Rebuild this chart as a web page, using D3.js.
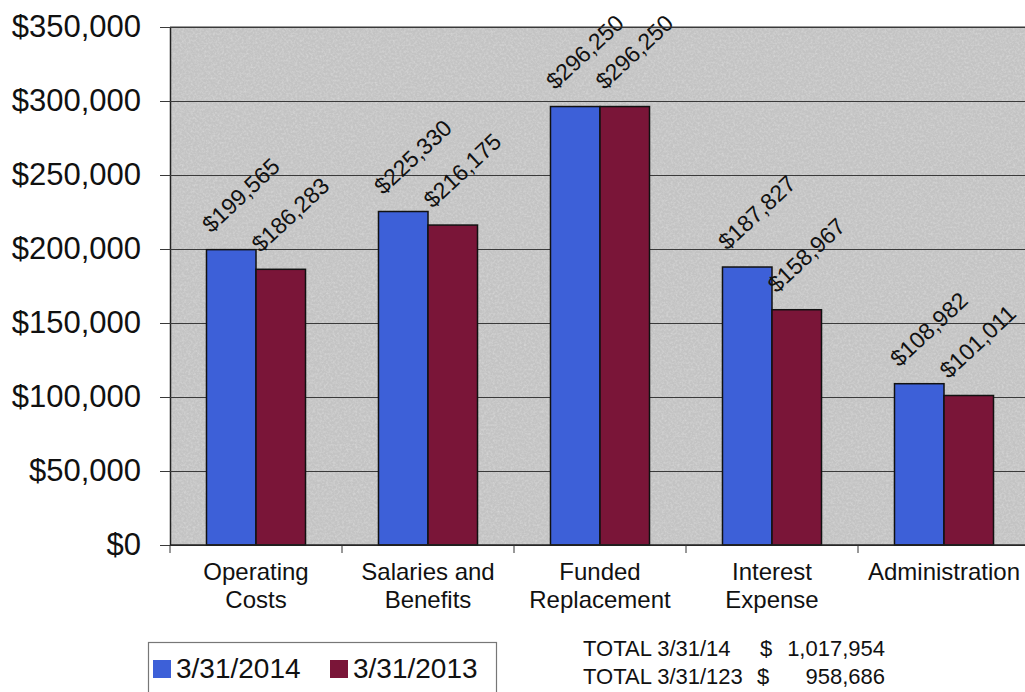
<!DOCTYPE html>
<html>
<head>
<meta charset="utf-8">
<script src="https://cdn.jsdelivr.net/npm/d3@7"></script>
<style>
  body { margin: 0; background: #fff; }
  svg { display: block; font-family: "Liberation Sans", Arial, sans-serif; }
</style>
</head>
<body>
<div id="chart"></div>
<script>
'use strict';

// data
var categories = [["Operating", "Costs"], ["Salaries and", "Benefits"], ["Funded", "Replacement"], ["Interest", "Expense"], ["Administration"]];
var seriesNames = ["3/31/2014", "3/31/2013"];
var values2014 = [199565, 225330, 296250, 187827, 108982];
var values2013 = [186283, 216175, 296250, 158967, 101011];
var yTicks = [0, 50000, 100000, 150000, 200000, 250000, 300000, 350000];
var totalLabels = ["TOTAL 3/31/14", "TOTAL 3/31/123"];
var totalValues = ["1,017,954", "958,686"];

var colors = ["#3d60d8", "#7a1538"];

var W = 1025, H = 692;
var plot = {left: 170, right: 1030, top: 27, bottom: 545};

var svg = d3.select("#chart").append("svg")
  .attr("width", W)
  .attr("height", H);

// light speckle texture for the grey plot area
var defs = svg.append("defs");
var f = defs.append("filter").attr("id", "grain")
  .attr("x", 0).attr("y", 0).attr("width", "100%").attr("height", "100%");
f.append("feTurbulence").attr("type", "fractalNoise")
  .attr("baseFrequency", 0.45).attr("numOctaves", 3).attr("seed", 7);
f.append("feColorMatrix").attr("type", "matrix")
  .attr("values", "0 0 0 0 1  0 0 0 0 1  0 0 0 0 1  1.2 0 0 0 -0.45");

var keys = categories.map(function(c) { return c.join(" "); });

var x0 = d3.scaleBand().domain(keys).range([plot.left, plot.right]).padding(0);
var x1 = d3.scaleBand().domain(seriesNames).range([0, x0.bandwidth()])
  .paddingInner(0).paddingOuter(0.737);
var y = d3.scaleLinear().domain([0, 350000]).range([plot.bottom, plot.top]);

var fmt = d3.format("$,");

// plot background
svg.append("rect")
  .attr("x", plot.left).attr("y", plot.top)
  .attr("width", plot.right - plot.left).attr("height", plot.bottom - plot.top)
  .attr("fill", "#c3c3c3");
svg.append("rect")
  .attr("x", plot.left).attr("y", plot.top)
  .attr("width", plot.right - plot.left).attr("height", plot.bottom - plot.top)
  .attr("filter", "url(#grain)")
  .attr("opacity", 0.45);

// gridlines + y axis
var yAxis = d3.axisLeft(y)
  .tickValues(yTicks)
  .tickFormat(fmt)
  .tickSizeInner(-(plot.right - plot.left))
  .tickSizeOuter(0)
  .tickPadding(29);

var gy = svg.append("g")
  .attr("transform", "translate(" + plot.left + ",0)")
  .call(yAxis);
gy.select(".domain").attr("stroke", "#222").attr("stroke-width", 1.5);
gy.selectAll(".tick line")
  .attr("x1", -10)
  .attr("stroke", "#3a3a3a").attr("stroke-width", 1.2);
gy.selectAll(".tick text")
  .attr("font-size", 31)
  .attr("font-family", "Liberation Sans, Arial, sans-serif")
  .attr("fill", "#111");

// bars
var rows = keys.map(function(k, i) {
  return {key: k, vals: [values2014[i], values2013[i]]};
});

var groups = svg.selectAll(".grp")
  .data(rows)
  .enter().append("g")
  .attr("class", "grp")
  .attr("transform", function(d) { return "translate(" + x0(d.key) + ",0)"; });

groups.selectAll("rect")
  .data(function(d) { return d.vals.map(function(v, j) { return {s: seriesNames[j], v: v, j: j}; }); })
  .enter().append("rect")
  .attr("x", function(d) { return x1(d.s); })
  .attr("y", function(d) { return y(d.v); })
  .attr("width", x1.bandwidth())
  .attr("height", function(d) { return y(0) - y(d.v); })
  .attr("fill", function(d) { return colors[d.j]; })
  .attr("stroke", "#111")
  .attr("stroke-width", 1.5);

// rotated value labels
groups.selectAll("text.val")
  .data(function(d) { return d.vals.map(function(v, j) { return {s: seriesNames[j], v: v}; }); })
  .enter().append("text")
  .attr("class", "val")
  .attr("transform", function(d) {
    var cx = x1(d.s) + x1.bandwidth() / 2 - 20;
    return "translate(" + cx + "," + (y(d.v) - 16) + ") rotate(-43)";
  })
  .attr("font-size", 23)
  .attr("fill", "#111")
  .text(function(d) { return fmt(d.v); });

// bottom axis + top border
svg.append("line")
  .attr("x1", plot.left).attr("x2", plot.right)
  .attr("y1", plot.bottom).attr("y2", plot.bottom)
  .attr("stroke", "#222").attr("stroke-width", 1.5);
svg.append("line")
  .attr("x1", plot.left).attr("x2", plot.right)
  .attr("y1", plot.top).attr("y2", plot.top)
  .attr("stroke", "#3a3a3a").attr("stroke-width", 1.2);

var bounds = keys.concat([null]);
svg.selectAll(".xtick")
  .data(bounds)
  .enter().append("line")
  .attr("x1", function(d) { return d === null ? plot.right : x0(d); })
  .attr("x2", function(d) { return d === null ? plot.right : x0(d); })
  .attr("y1", plot.bottom).attr("y2", plot.bottom + 8)
  .attr("stroke", "#333");

var cl = svg.selectAll(".cat")
  .data(categories)
  .enter().append("text")
  .attr("class", "cat")
  .attr("text-anchor", "middle")
  .attr("font-size", 24)
  .attr("fill", "#111")
  .attr("x", function(d, i) { return x0(keys[i]) + x0.bandwidth() / 2; })
  .attr("y", 580);
cl.selectAll("tspan")
  .data(function(d, i) { return d.map(function(t) { return {t: t, i: i}; }); })
  .enter().append("tspan")
  .attr("x", function(d) { return x0(keys[d.i]) + x0.bandwidth() / 2; })
  .attr("dy", function(d, j) { return j === 0 ? 0 : 28; })
  .text(function(d) { return d.t; });

// legend
var lg = svg.append("g");
lg.append("rect")
  .attr("x", 148.5).attr("y", 642.5)
  .attr("width", 348).attr("height", 60)
  .attr("fill", "#fff")
  .attr("stroke", "#777").attr("stroke-width", 1.2);
var lx = [153, 330];
seriesNames.forEach(function(s, i) {
  lg.append("rect")
    .attr("x", lx[i]).attr("y", 660)
    .attr("width", 18).attr("height", 18)
    .attr("fill", colors[i]);
  lg.append("text")
    .attr("x", lx[i] + 23).attr("y", 678)
    .attr("font-size", 28)
    .attr("fill", "#111")
    .text(s);
});

// totals
totalLabels.forEach(function(t, i) {
  var by = 656 + i * 28;
  svg.append("text").attr("x", 583).attr("y", by)
    .attr("font-size", 22).attr("fill", "#111").text(t);
  svg.append("text").attr("x", i === 0 ? 760 : 757).attr("y", by)
    .attr("font-size", 22).attr("fill", "#111").text("$");
  svg.append("text").attr("x", 885).attr("y", by)
    .attr("text-anchor", "end")
    .attr("font-size", 22).attr("fill", "#111").text(totalValues[i]);
});
</script>
</body>
</html>
